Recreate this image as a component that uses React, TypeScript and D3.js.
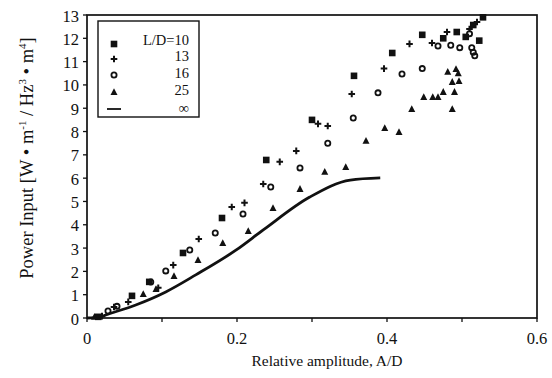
import React from "react";
import * as d3 from "d3";

const xTicks = [0, 0.1, 0.2, 0.3, 0.4, 0.5, 0.6];
const xLabels = [0, 0.2, 0.4, 0.6];
const yTicks = [0, 1, 2, 3, 4, 5, 6, 7, 8, 9, 10, 11, 12, 13];

const ld10: [number, number][] = [
  [0.015, 0.05], [0.06, 0.95], [0.083, 1.55], [0.128, 2.79], [0.18, 4.29], [0.239, 6.78],
  [0.3, 8.5], [0.356, 10.39], [0.407, 11.37], [0.447, 12.15], [0.475, 12.0], [0.493, 12.27],
  [0.505, 12.06], [0.515, 12.57], [0.523, 11.9], [0.528, 12.9],
];
const ld13: [number, number][] = [
  [0.02, 0.08], [0.036, 0.47], [0.055, 0.69], [0.095, 1.3], [0.115, 2.27], [0.149, 3.39],
  [0.193, 4.76], [0.21, 4.94], [0.235, 5.75], [0.257, 6.7], [0.279, 7.17], [0.308, 8.33],
  [0.321, 8.24], [0.353, 9.61], [0.396, 10.7], [0.43, 11.76], [0.46, 11.8], [0.48, 12.27],
  [0.51, 12.4], [0.52, 12.7],
];
const ld16: [number, number][] = [
  [0.028, 0.3], [0.04, 0.5], [0.085, 1.54], [0.105, 2.02], [0.137, 2.92], [0.171, 3.65],
  [0.208, 4.46], [0.245, 5.62], [0.284, 6.44], [0.321, 7.5], [0.355, 8.58], [0.388, 9.66],
  [0.42, 10.47], [0.447, 10.7], [0.468, 11.67], [0.485, 11.7], [0.497, 11.6], [0.513, 11.6],
  [0.515, 11.4], [0.517, 11.25], [0.51, 12.2],
];
const ld25: [number, number][] = [
  [0.01, 0.05], [0.075, 1.03], [0.092, 1.24], [0.116, 1.8], [0.148, 2.49], [0.181, 3.22],
  [0.215, 3.73], [0.248, 4.72], [0.284, 5.54], [0.317, 6.27], [0.345, 6.48], [0.372, 7.6],
  [0.397, 8.15], [0.416, 7.98], [0.433, 8.97], [0.449, 9.48], [0.461, 9.48], [0.468, 9.48],
  [0.475, 9.7], [0.487, 8.97], [0.49, 9.7], [0.487, 10.13], [0.496, 10.17], [0.481, 10.56],
  [0.492, 10.68], [0.495, 10.5],
];
const ldInf: [number, number][] = [
  [0, 0], [0.017, 0.04], [0.025, 0.13], [0.065, 0.56], [0.105, 1.12], [0.145, 1.85],
  [0.199, 2.92], [0.235, 3.78], [0.297, 5.19], [0.351, 5.92], [0.391, 6.01],
];

const legendLabels = ["L/D=10", "13", "16", "25", "\u221e"];

const W = 552, H = 378;
const x = d3.scaleLinear().domain([0, 0.6]).range([87, 537]);
const y = d3.scaleLinear().domain([0, 13]).range([318, 15]);
const font = "'Liberation Serif', 'Times New Roman', serif";

function Square({ cx, cy }: { cx: number; cy: number }) {
  return <rect x={cx - 3.3} y={cy - 3.3} width={6.6} height={6.6} fill="#111" />;
}
function Plus({ cx, cy }: { cx: number; cy: number }) {
  return <path d={`M${cx - 3.3},${cy}H${cx + 3.3}M${cx},${cy - 3.3}V${cy + 3.3}`} stroke="#111" strokeWidth={2} />;
}
function Circ({ cx, cy }: { cx: number; cy: number }) {
  return <circle cx={cx} cy={cy} r={2.6} fill="none" stroke="#111" strokeWidth={1.8} />;
}
function Tri({ cx, cy }: { cx: number; cy: number }) {
  return <path d={`M${cx},${cy - 3.8}L${cx + 3.5},${cy + 3}L${cx - 3.5},${cy + 3}Z`} fill="#111" />;
}

export default function App() {
  const line = d3.line<[number, number]>().x(d => x(d[0])).y(d => y(d[1])).curve(d3.curveMonotoneX);
  const markers = [Square, Plus, Circ, Tri];
  const series = [ld10, ld13, ld16, ld25];
  const legY = [44, 59, 75, 92];
  return (
    <svg width={W} height={H} style={{ position: "absolute", left: 0, top: 0, background: "#fff" }}>
      <rect x={0} y={0} width={W} height={H} fill="#fff" />
      {/* frame */}
      <rect x={x(0)} y={y(13)} width={x(0.6) - x(0)} height={y(0) - y(13)} fill="none" stroke="#111" strokeWidth={1.7} />
      {/* x ticks */}
      {xTicks.map(t => (
        <line key={"xt" + t} x1={x(t)} x2={x(t)} y1={y(0)} y2={y(0) + 4} stroke="#111" strokeWidth={1.3} />
      ))}
      {xLabels.map(t => (
        <text key={"xl" + t} x={x(t)} y={y(0) + 26} textAnchor="middle" fontFamily={font} fontSize={16.5} fill="#111">
          {t === 0 ? "0" : d3.format(".1f")(t)}
        </text>
      ))}
      {/* y ticks */}
      {yTicks.map(t => (
        <line key={"yt" + t} x1={x(0) - 4} x2={x(0)} y1={y(t)} y2={y(t)} stroke="#111" strokeWidth={1.3} />
      ))}
      {yTicks.map(t => (
        <text key={"yl" + t} x={79} y={y(t) + 6.5} textAnchor="end" fontFamily={font} fontSize={16.5} fill="#111">
          {t}
        </text>
      ))}
      {/* axis titles */}
      <text x={327} y={366} textAnchor="middle" fontFamily={font} fontSize={15.5} fill="#111">
        Relative amplitude, A/D
      </text>
      <text transform={`translate(33,158) rotate(-90)`} textAnchor="middle" fontFamily={font} fontSize={18.5} fill="#111">
        Power Input [W • m<tspan dy={-7} fontSize={11}>-1</tspan><tspan dy={7}> / Hz</tspan>
        <tspan dy={-7} fontSize={11}>3</tspan><tspan dy={7}> • m</tspan><tspan dy={-7} fontSize={11}>4</tspan>
        <tspan dy={7}>]</tspan>
      </text>
      {/* curve */}
      <path d={line(ldInf) || ""} fill="none" stroke="#111" strokeWidth={2.8} />
      {/* points */}
      {series.map((s, i) => {
        const M = markers[i];
        return s.map((d, j) => <M key={i + "-" + j} cx={x(d[0])} cy={y(d[1])} />);
      })}
      {/* legend */}
      <rect x={98} y={21} width={101} height={96} fill="#fff" stroke="#111" strokeWidth={1.4} />
      {markers.map((M, i) => <M key={"lm" + i} cx={114} cy={legY[i]} />)}
      <line x1={107} x2={121} y1={109} y2={109} stroke="#111" strokeWidth={1.8} />
      {legendLabels.map((l, i) => (
        <text key={"lt" + i} x={189} y={[45, 61, 78, 95, 113][i]} textAnchor="end" fontFamily={font} fontSize={14.5} fill="#111">
          {l}
        </text>
      ))}
    </svg>
  );
}
